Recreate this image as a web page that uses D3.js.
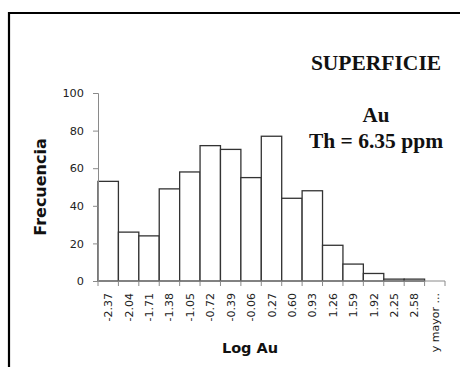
<!DOCTYPE html>
<html>
<head>
<meta charset="utf-8">
<script src="https://cdn.jsdelivr.net/npm/d3@7"></script>
<style>
    body { margin: 0; background: #fff; }
    svg { display: block; }
    .tick text { font-family: "DejaVu Sans", Verdana, sans-serif; font-size: 11.3px; fill: #222; }
    .axis path, .axis line { stroke: #8a8a8a; }
    .serif-label { font-family: "Liberation Serif", "Times New Roman", serif; font-weight: bold; fill: #111; }
</style>
</head>
<body>
<div id="chart-area"></div>
<script>
const bins = ["-2.37", "-2.04", "-1.71", "-1.38", "-1.05", "-0.72", "-0.39", "-0.06", "0.27", "0.60", "0.93", "1.26", "1.59", "1.92", "2.25", "2.58", "y mayor ..."];
const frecuencia = [53, 26, 24, 49, 58, 72, 70, 55, 77, 44, 48, 19, 9, 4, 1, 1, 0];
const yTicks = [0, 20, 40, 60, 80, 100];

// Draw the histogram
function drawChart() {
    const width = 460, height = 367;
    const plot = { left: 98, right: 445, top: 93, bottom: 281 };

    const svg = d3.select('#chart-area').append('svg')
        .attr('width', width)
        .attr('height', height);

    // frame (top and left edges visible)
    svg.append('path')
        .attr('d', `M9,${height} L9,13 L${width},13`)
        .attr('fill', 'none')
        .attr('stroke', '#000')
        .attr('stroke-width', 2.2);

    const xScale = d3.scaleBand().domain(bins).range([plot.left, plot.right]).padding(0);
    const yScale = d3.scaleLinear().domain([0, 100]).range([plot.bottom, plot.top]);

    svg.selectAll('.bar')
        .data(bins)
        .enter().append('rect')
        .attr('class', 'bar')
        .attr('x', d => xScale(d))
        .attr('y', (d, i) => yScale(frecuencia[i]))
        .attr('width', xScale.bandwidth())
        .attr('height', (d, i) => plot.bottom - yScale(frecuencia[i]))
        .attr('fill', '#fff')
        .attr('stroke', '#333')
        .attr('stroke-width', 1.3);

    const yAxis = svg.append('g')
        .attr('class', 'axis')
        .attr('transform', `translate(${plot.left},0)`)
        .call(d3.axisLeft(yScale).tickValues(yTicks).tickSize(5).tickSizeOuter(5).tickPadding(9));
    yAxis.selectAll('.tick text').attr('font-size', null);

    // x axis with ticks at band edges
    const xAxis = svg.append('g')
        .attr('class', 'axis')
        .attr('transform', `translate(0,${plot.bottom})`);
    xAxis.append('line')
        .attr('x1', plot.left).attr('x2', plot.right)
        .attr('stroke', '#8a8a8a');
    xAxis.selectAll('.edge')
        .data(bins.concat(['end']))
        .enter().append('line')
        .attr('class', 'edge')
        .attr('x1', (d, i) => i < bins.length ? xScale(d) : plot.right)
        .attr('x2', (d, i) => i < bins.length ? xScale(d) : plot.right)
        .attr('y1', 0).attr('y2', 5)
        .attr('stroke', '#8a8a8a');
    xAxis.selectAll('.xlabel')
        .data(bins)
        .enter().append('text')
        .attr('class', 'xlabel')
        .attr('transform', d => `translate(${xScale(d) + xScale.bandwidth() / 2 + 4},12) rotate(-90)`)
        .attr('text-anchor', 'end')
        .style('font-family', '"DejaVu Sans", Verdana, sans-serif')
        .style('font-size', '11px')
        .attr('fill', '#222')
        .text(d => d);

    svg.append('text')
        .attr('transform', `translate(46,187) rotate(-90)`)
        .attr('text-anchor', 'middle')
        .style('font-family', '"DejaVu Sans", Verdana, sans-serif')
        .style('font-weight', 'bold')
        .style('font-size', '16px')
        .attr('fill', '#111')
        .text('Frecuencia');

    svg.append('text')
        .attr('x', 250)
        .attr('y', 353)
        .attr('text-anchor', 'middle')
        .style('font-family', '"DejaVu Sans", Verdana, sans-serif')
        .style('font-weight', 'bold')
        .style('font-size', '14.5px')
        .attr('fill', '#111')
        .text('Log Au');

    svg.append('text')
        .attr('class', 'serif-label')
        .attr('x', 376).attr('y', 70)
        .attr('text-anchor', 'middle')
        .style('font-size', '21.5px')
        .text('SUPERFICIE');

    svg.append('text')
        .attr('class', 'serif-label')
        .attr('x', 376).attr('y', 122)
        .attr('text-anchor', 'middle')
        .style('font-size', '21px')
        .text('Au');

    svg.append('text')
        .attr('class', 'serif-label')
        .attr('x', 376).attr('y', 148)
        .attr('text-anchor', 'middle')
        .style('font-size', '21.5px')
        .text('Th = 6.35 ppm');
}

drawChart();
</script>
</body>
</html>
